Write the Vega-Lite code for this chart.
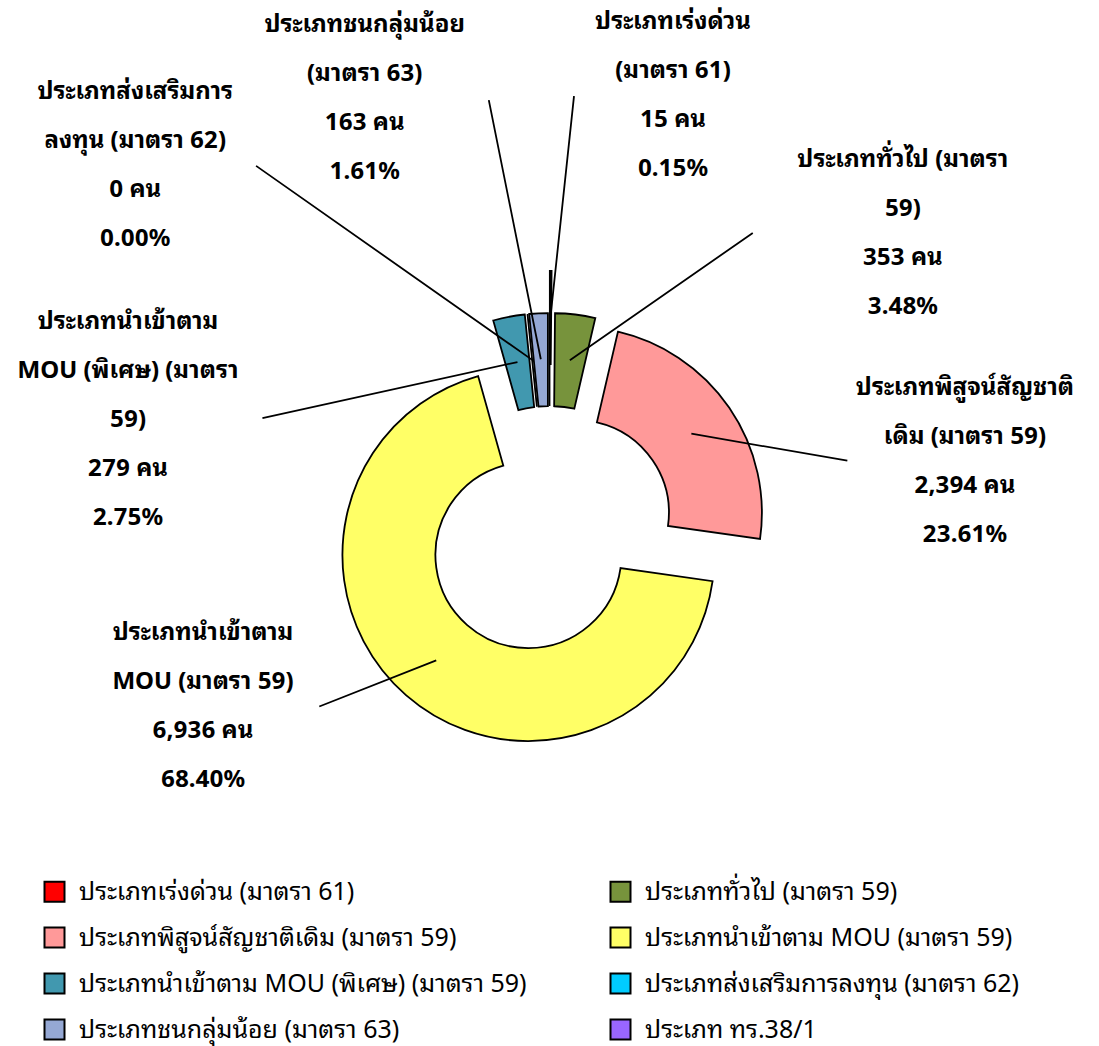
{
  "$schema": "https://vega.github.io/schema/vega-lite/v6.json",
  "width": 1099,
  "height": 1030,
  "padding": {"top": 16, "left": 0, "right": 0, "bottom": 0},
  "autosize": {"type": "none"},
  "background": "white",
  "config": {"view": {"stroke": null}, "font": "Noto Sans Thai Looped, Noto Sans Thai, Noto Sans, sans-serif"},
  "data": {
    "values": [
      {"category": "ประเภทเร่งด่วน (มาตรา 61)", "count": 15, "label": ["ประเภทเร่งด่วน", "(มาตรา 61)", "15 คน", "0.15%"]},
      {"category": "ประเภททั่วไป (มาตรา 59)", "count": 353, "label": ["ประเภททั่วไป (มาตรา", "59)", "353 คน", "3.48%"]},
      {"category": "ประเภทพิสูจน์สัญชาติเดิม (มาตรา 59)", "count": 2394, "label": ["ประเภทพิสูจน์สัญชาติ", "เดิม (มาตรา 59)", "2,394 คน", "23.61%"]},
      {"category": "ประเภทนำเข้าตาม MOU (มาตรา 59)", "count": 6936, "label": ["ประเภทนำเข้าตาม", "MOU (มาตรา 59)", "6,936 คน", "68.40%"]},
      {"category": "ประเภทนำเข้าตาม MOU (พิเศษ) (มาตรา 59)", "count": 279, "label": ["ประเภทนำเข้าตาม", "MOU (พิเศษ) (มาตรา", "59)", "279 คน", "2.75%"]},
      {"category": "ประเภทส่งเสริมการลงทุน (มาตรา 62)", "count": 0, "label": ["ประเภทส่งเสริมการ", "ลงทุน (มาตรา 62)", "0 คน", "0.00%"]},
      {"category": "ประเภทชนกลุ่มน้อย (มาตรา 63)", "count": 163, "label": ["ประเภทชนกลุ่มน้อย", "(มาตรา 63)", "163 คน", "1.61%"]},
      {"category": "ประเภท ทร.38/1", "count": 0, "label": null}
    ]
  },
  "transform": [
    {"window": [{"op": "row_number", "as": "idx"}]},
    {"joinaggregate": [{"op": "sum", "field": "count", "as": "total"}]}
  ],
  "resolve": {"scale": {"theta": "independent", "radius": "independent"}},
  "layer": [
    {
      "mark": {
        "type": "arc",
        "innerRadius": 93,
        "outerRadius": 186,
        "stroke": "black",
        "strokeWidth": 1.8,
        "xOffset": {"expr": "(datum.idx==1?74:32)*sin(PI*(datum.count_start+datum.count_end)/datum.total)"},
        "yOffset": {"expr": "-(datum.idx==1?74:32)*cos(PI*(datum.count_start+datum.count_end)/datum.total)"}
      },
      "encoding": {
        "theta": {"field": "count", "type": "quantitative", "stack": true},
        "order": {"field": "idx", "type": "quantitative"},
        "color": {
          "field": "category",
          "type": "nominal",
          "scale": {
            "domain": ["ประเภทเร่งด่วน (มาตรา 61)", "ประเภททั่วไป (มาตรา 59)", "ประเภทพิสูจน์สัญชาติเดิม (มาตรา 59)", "ประเภทนำเข้าตาม MOU (มาตรา 59)", "ประเภทนำเข้าตาม MOU (พิเศษ) (มาตรา 59)", "ประเภทส่งเสริมการลงทุน (มาตรา 62)", "ประเภทชนกลุ่มน้อย (มาตรา 63)", "ประเภท ทร.38/1"],
            "range": ["#FF0000", "#77933C", "#FF9999", "#FFFF66", "#4198AF", "#00CCFF", "#95A8D4", "#9966FF"]
          },
          "legend": {
            "orient": "none",
            "legendX": 42,
            "legendY": 863,
            "direction": "horizontal",
            "columns": 2,
            "title": null,
            "padding": 0,
            "symbolType": "square",
            "symbolSize": 400,
            "symbolStrokeColor": "black",
            "symbolStrokeWidth": 2,
            "labelFontSize": 25,
            "labelColor": "black",
            "labelOffset": 12,
            "labelLimit": 700,
            "rowPadding": 17,
            "columnPadding": 79
          }
        }
      }
    },
    {
      "transform": [
        {"filter": "datum.label != null"},
        {"window": [{"op": "sum", "field": "count", "as": "cum"}], "sort": [{"field": "idx"}], "frame": [null, 0]}
      ],
      "mark": {
        "type": "arc",
        "filled": false,
        "stroke": "black",
        "strokeWidth": 1.8,
        "xOffset": {"expr": "((datum.idx==1?74:32)+140)*sin(2*PI*(datum.cum-datum.count/2)/datum.total)"},
        "yOffset": {"expr": "-((datum.idx==1?74:32)+140)*cos(2*PI*(datum.cum-datum.count/2)/datum.total)"}
      },
      "encoding": {
        "theta": {
          "field": "count", "type": "quantitative", "stack": null,
          "scale": {"domain": [0, 15, 163, 279, 353, 2394, 6936], "range": [5.325, 0.106, 6.085, 4.496, 0.963, 1.742, 4.337], "nice": false, "zero": false}
        },
        "theta2": {"field": "count"},
        "radius": {
          "field": "count", "type": "quantitative",
          "scale": {"type": "linear", "domain": [0, 15, 163, 279, 353, 2394, 6936], "range": [337.4, 222.2, 264.2, 261.1, 222.8, 158.3, 125.7], "nice": false, "zero": false}
        },
        "radius2": {"value": 0}
      }
    },
    {
      "transform": [{"filter": "datum.label != null"}],
      "mark": {"type": "text", "fontSize": 24, "fontWeight": "bold", "lineHeight": 49, "align": "center", "baseline": "middle", "color": "black"},
      "encoding": {
        "theta": {
          "field": "count", "type": "quantitative", "stack": null,
          "scale": {"domain": [0, 15, 163, 279, 353, 2394, 6936], "range": [5.527, 0.238, 5.933, 5.173, 0.761, 1.239, 4.426], "nice": false, "zero": false}
        },
        "radius": {
          "field": "count", "type": "quantitative",
          "scale": {"type": "linear", "domain": [0, 15, 163, 279, 353, 2394, 6936], "range": [603.8, 523.8, 538.6, 470.5, 512.4, 439.4, 361.2], "nice": false, "zero": false}
        },
        "text": {"field": "label"}
      }
    }
  ]
}
